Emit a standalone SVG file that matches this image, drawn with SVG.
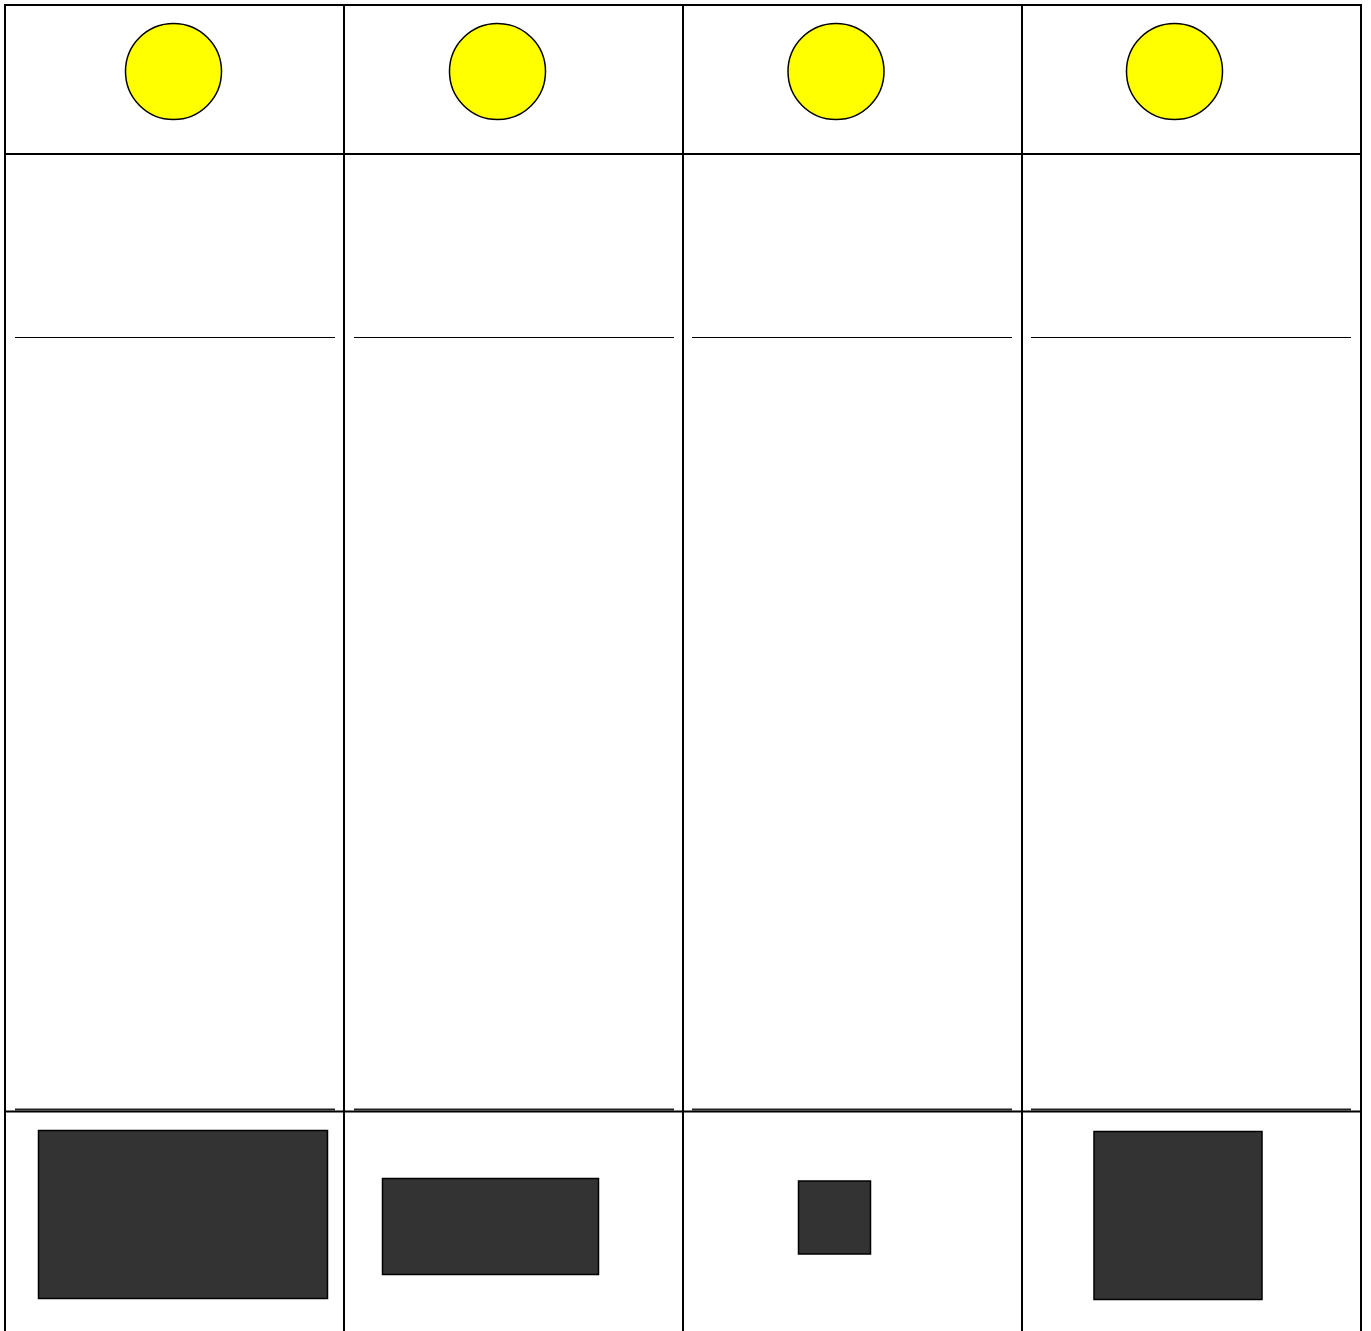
<svg xmlns="http://www.w3.org/2000/svg" width="1371" height="1331" viewBox="0 0 1371 1331">
<style>
.grid{stroke:#000;stroke-width:2;fill:none}
.rule{stroke:#000;stroke-width:1}
.rule2{stroke:#222;stroke-width:2}
.sun{fill:#ffff00;stroke:#000;stroke-width:1.5}
.box{fill:#333333;stroke:#000;stroke-width:1.5}
</style>
<rect width="1371" height="1331" fill="#fff"/>
<g id="grid">
<path class="grid" d="M5,1331V5H1361V1331M344,5V1331M683,5V1331M1022,5V1331M5,154H1361M5,1111.5H1361"/>
</g>
<g id="rules">
<path class="rule" d="M15,337.5H335M354,337.5H674M692,337.5H1012M1031,337.5H1351"/>
<path class="rule2" d="M15,1109.5H335M354,1109.5H674M692,1109.5H1012M1031,1109.5H1351"/>
</g>
<g id="col1"><circle class="sun" cx="173.5" cy="71.5" r="48"/><rect class="box" x="38.5" y="1130.5" width="289" height="168"/></g>
<g id="col2"><circle class="sun" cx="497.5" cy="71.5" r="48"/><rect class="box" x="382.5" y="1178.5" width="216" height="96"/></g>
<g id="col3"><circle class="sun" cx="836" cy="71.5" r="48"/><rect class="box" x="798.5" y="1181" width="72" height="73"/></g>
<g id="col4"><circle class="sun" cx="1174.5" cy="71.5" r="48"/><rect class="box" x="1094" y="1131.5" width="168" height="168"/></g>
</svg>
